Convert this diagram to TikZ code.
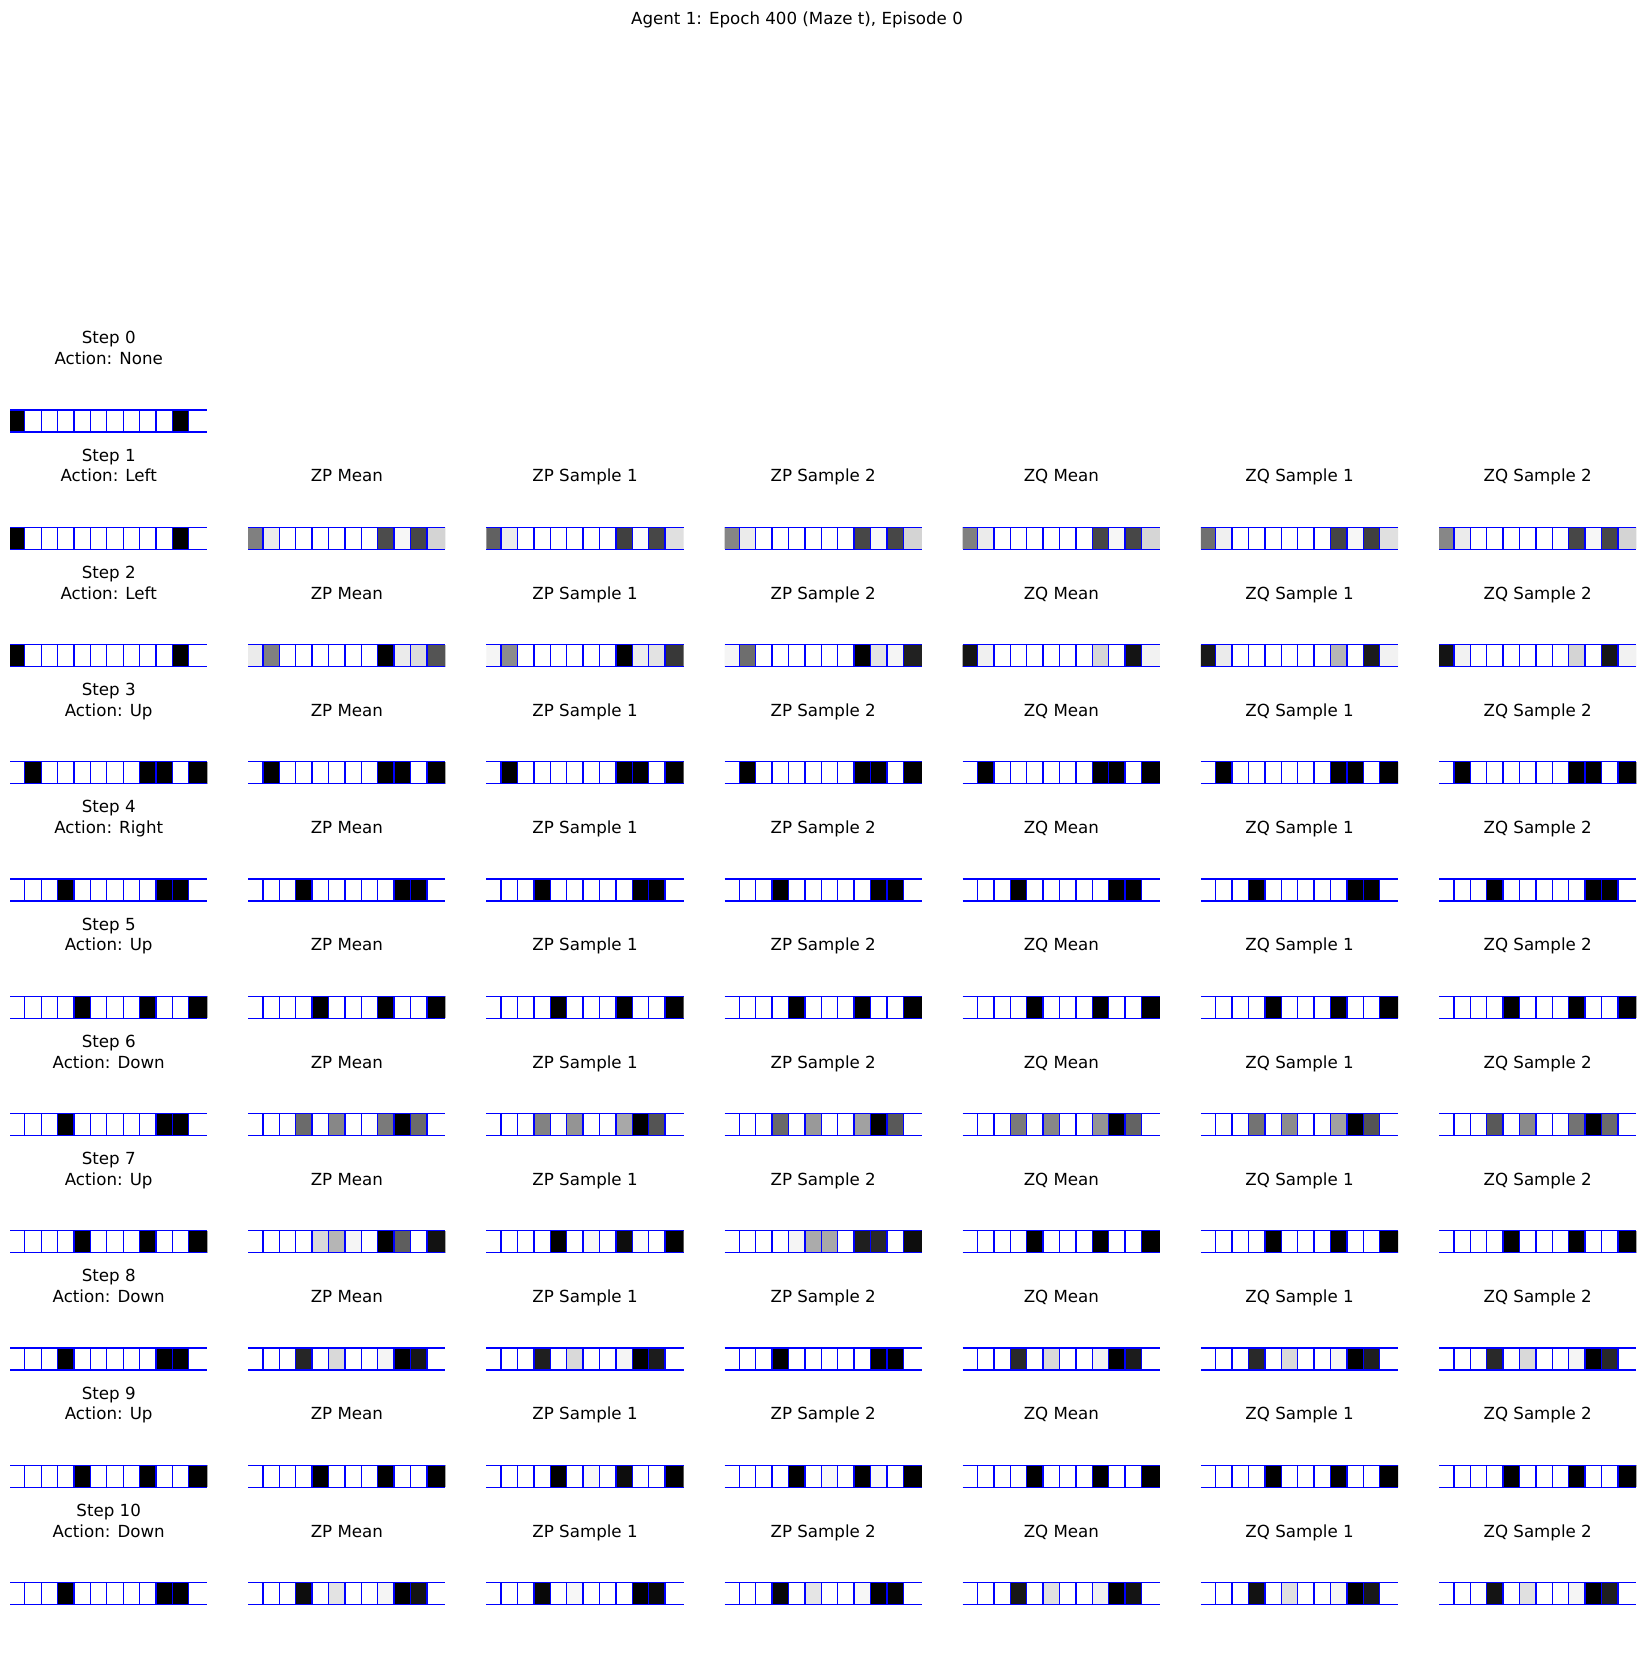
\documentclass[tikz,border=0pt]{standalone}
\usepackage{fontspec}
\setmainfont{DejaVu Sans}

% one 1x12 maze strip: #1 column, #2 row, #3 white level (0-100) of each cell
\newcommand\mazestrip[3]{%
  \pgfmathsetmacro\sx{10+238.17*#1}%
  \pgfmathsetmacro\sy{410+117.25*#2}%
  \edef\cells{#3}%
  \begin{scope}
    \clip (\sx,\sy) rectangle ++(197.3,22);
    \foreach \v [count=\k from 0] in \cells {
      \pgfmathsetmacro\cx{\sx-1.6+16.4*\k}
      \pgfmathsetmacro\cw{(\k==11)*4+16.4}
      \fill[white!\v!black] (\cx,\sy) rectangle ++(\cw,22);
    }
  \end{scope}
  \foreach \k in {1,...,11}
    \draw[cellgrid] ({\sx-1.6+16.4*\k},\sy) -- ++(0,22);
  \draw[cellgrid] (\sx,\sy) -- ++(197.3,0) (\sx,\sy+22) -- ++(197.3,0);
}

\begin{document}
\begin{tikzpicture}[x=0.72bp, y=-0.72bp,
  ttl/.style={anchor=south, inner sep=0pt, text depth=0pt, align=center, font=\fontsize{12bp}{15bp}\selectfont},
  cellgrid/.style={draw=gridblue, line width=1bp},
]
\definecolor{gridblue}{HTML}{0000FF}
\fill[white] (0,0) rectangle (1647,1653);
\useasboundingbox (0,0) rectangle (1647,1653);
% title
\node[anchor=base, inner sep=0pt, font=\fontsize{12bp}{15bp}\selectfont] (suptitle) at (797,24) {Agent 1: Epoch 400 (Maze t), Episode 0};
% ---- panel titles ----
\foreach \r/\act in {0/None,1/Left,2/Left,3/Up,4/Right,5/Up,6/Down,7/Up,8/Down,9/Up,10/Down}
  \node[ttl] (step\r) at (108.7,{410+117.25*\r-45}) {Step \r\\Action: \act};
\foreach \r in {1,...,10}
  \foreach \c/\name in {1/ZP Mean,2/ZP Sample 1,3/ZP Sample 2,4/ZQ Mean,5/ZQ Sample 1,6/ZQ Sample 2}
    \node[ttl] (lbl\r-\c) at ({108.7+238.17*\c},{410+117.25*\r-45}) {\name};
% ---- maze strips ----
\def\mazeA{0,100,100,100,100,100,100,100,100,100,0,100}
\def\mazeB{100,0,100,100,100,100,100,100,0,0,100,0}
\def\mazeC{100,100,100,0,100,100,100,100,100,0,0,100}
\def\mazeD{100,100,100,100,0,100,100,100,0,100,100,0}
\mazestrip{0}{0}{\mazeA}
% step 1
\mazestrip{0}{1}{\mazeA}
\mazestrip{1}{1}{50,92,100,100,100,100,100,100,30,97,28,83}
\mazestrip{2}{1}{38,92,100,100,100,100,100,100,25,99,28,88}
\mazestrip{3}{1}{52,92,100,100,100,100,100,100,28,97,28,83}
\mazestrip{4}{1}{50,92,100,100,100,100,100,100,28,97,28,84}
\mazestrip{5}{1}{44,94,100,100,100,100,100,100,27,97,25,88}
\mazestrip{6}{1}{53,92,100,100,100,100,100,100,28,97,28,83}
% step 2
\mazestrip{0}{2}{\mazeA}
\mazestrip{1}{2}{92,50,100,100,100,100,100,100,0,92,86,33}
\mazestrip{2}{2}{96,55,100,100,100,100,100,100,0,93,89,22}
\mazestrip{3}{2}{96,43,100,100,100,100,100,100,0,89,96,13}
\mazestrip{4}{2}{8,94,100,100,100,100,100,100,84,100,8,95}
\mazestrip{5}{2}{10,92,100,100,100,100,100,100,71,100,11,95}
\mazestrip{6}{2}{8,95,100,100,100,100,100,100,83,100,9,95}
% steps 3-5
\foreach \c in {0,...,6} {
  \mazestrip{\c}{3}{\mazeB}
  \mazestrip{\c}{4}{\mazeC}
  \mazestrip{\c}{5}{\mazeD}
}
% step 6
\mazestrip{0}{6}{\mazeC}
\mazestrip{1}{6}{100,100,100,42,100,53,100,100,48,0,42,100}
\mazestrip{2}{6}{100,100,100,51,100,58,100,100,66,0,33,100}
\mazestrip{3}{6}{100,100,100,41,100,60,100,100,63,0,35,100}
\mazestrip{4}{6}{100,100,100,48,100,53,100,100,58,0,39,100}
\mazestrip{5}{6}{100,100,100,45,100,55,100,100,63,0,33,100}
\mazestrip{6}{6}{100,100,100,35,100,54,100,100,45,0,42,100}
% step 7
\mazestrip{0}{7}{\mazeD}
\mazestrip{1}{7}{100,100,100,100,85,71,96,100,0,37,100,7}
\mazestrip{2}{7}{100,100,100,100,0,100,97,100,5,98,100,0}
\mazestrip{3}{7}{100,100,100,100,96,67,66,100,12,16,100,5}
\mazestrip{4}{7}{\mazeD}
\mazestrip{5}{7}{\mazeD}
\mazestrip{6}{7}{\mazeD}
% step 8
\mazestrip{0}{8}{\mazeC}
\mazestrip{1}{8}{100,100,100,15,100,85,100,100,96,0,9,100}
\mazestrip{2}{8}{100,100,100,12,100,85,100,100,96,0,11,100}
\mazestrip{3}{8}{\mazeC}
\mazestrip{4}{8}{100,100,100,16,100,85,100,100,95,0,11,100}
\mazestrip{5}{8}{100,100,100,16,100,85,100,100,96,0,12,100}
\mazestrip{6}{8}{100,100,100,16,100,85,100,100,96,0,16,100}
% step 9
\mazestrip{0}{9}{\mazeD}
\mazestrip{1}{9}{\mazeD}
\mazestrip{2}{9}{100,100,100,100,0,100,97,100,5,100,100,0}
\mazestrip{3}{9}{100,100,100,100,0,100,97,100,0,97,100,0}
\mazestrip{4}{9}{\mazeD}
\mazestrip{5}{9}{\mazeD}
\mazestrip{6}{9}{\mazeD}
% step 10
\mazestrip{0}{10}{\mazeC}
\mazestrip{1}{10}{100,100,100,5,100,89,100,100,96,0,8,100}
\mazestrip{2}{10}{100,100,100,3,100,97,100,100,100,0,4,100}
\mazestrip{3}{10}{100,100,100,3,100,90,100,100,97,0,2,100}
\mazestrip{4}{10}{100,100,100,9,100,88,100,100,94,0,8,100}
\mazestrip{5}{10}{100,100,100,7,100,88,100,100,96,0,10,100}
\mazestrip{6}{10}{100,100,100,8,100,88,100,100,96,0,12,100}
\end{tikzpicture}
\end{document}
